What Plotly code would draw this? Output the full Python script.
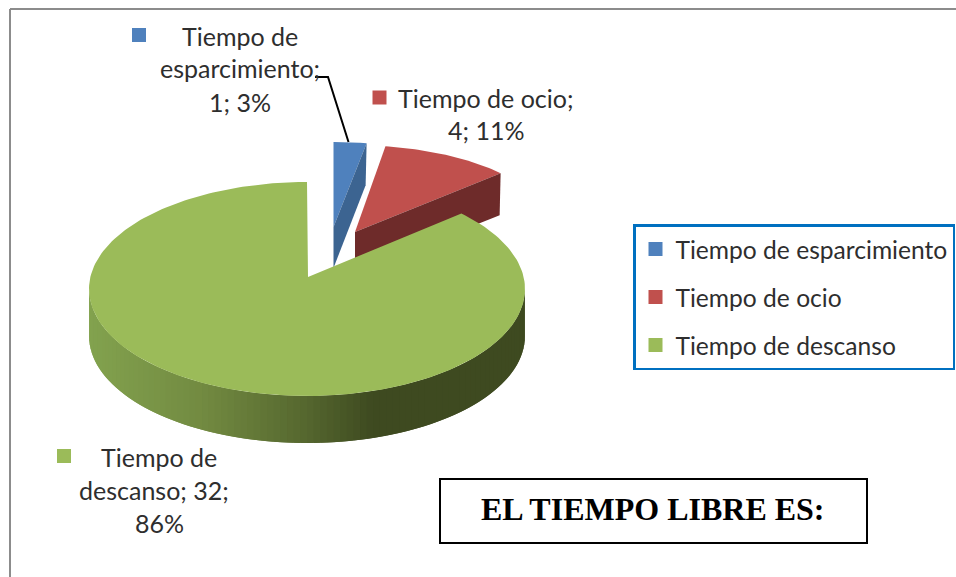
import math
import plotly.graph_objects as go

categories = ["Tiempo de esparcimiento", "Tiempo de ocio", "Tiempo de descanso"]
values = [1, 4, 32]
top_colors = ["#4F81BD", "#C0504D", "#9BBB59"]
side_colors = ["#3C6491", "#6E2B2A", None]

W, H = 956, 577
SANS = "Lato, Carlito, sans-serif"
INK = "#2e2e2e"
# Projection of each pulled slice: apex, ellipse centre, radii, angular warp
geom = [
    dict(ax=333.5, ay=227, cx=333.5, cy=227, rx=196, ry=85, warp=0),
    dict(ax=355, ay=232, cx=352, cy=228, rx=198, ry=83, warp=0),
    dict(ax=308, ay=277, cx=307, cy=289, rx=218, ry=107, warp=3.6),
]
DEPTH = 41
GREEN_DEPTH = 47

total = sum(values)
spans = []
a = 0.0
for v in values:
    spans.append((a, a + 360.0 * v / total))
    a += 360.0 * v / total


def pt(g, deg):
    d = deg - g["warp"] * math.sin(math.radians(2 * deg))
    r = math.radians(d)
    return g["cx"] + g["rx"] * math.sin(r), g["cy"] - g["ry"] * math.cos(r)


def poly(xs, ys, color, name):
    return go.Scatter(x=xs, y=ys, mode="lines", fill="toself", fillcolor=color,
                      line=dict(color=color, width=0), hoverinfo="skip",
                      showlegend=False, name=name)


fig = go.Figure()

# blue and red: top face and visible cut face
for i in (0, 1):
    g = geom[i]
    s, e = spans[i]
    n = 40
    arc = [pt(g, s + (e - s) * k / n) for k in range(n + 1)]
    xs = [g["ax"]] + [p[0] for p in arc]
    ys = [g["ay"]] + [p[1] for p in arc]
    bx, by = arc[-1]
    fig.add_trace(poly(xs, ys, top_colors[i], categories[i]))
    fig.add_trace(poly([g["ax"], bx, bx - 1, g["ax"]],
                       [g["ay"], by, by + DEPTH + 1, g["ay"] + DEPTH],
                       side_colors[i], categories[i]))

# green: shaded rim in overlapping strips, painted right to left, then top face
g = geom[2]
stops = [(89, (130, 162, 78)), (200, (114, 138, 65)), (300, (86, 104, 47)),
         (370, (62, 74, 32)), (530, (62, 74, 32))]


def shade(x):
    for (x0, c0), (x1, c1) in zip(stops, stops[1:]):
        if x <= x1:
            t = max(0.0, (x - x0) / (x1 - x0))
            return "rgb(%d,%d,%d)" % tuple(round(u + (w - u) * t) for u, w in zip(c0, c1))
    return "rgb(62,74,32)"


step = 2
for deg in range(90, 270, step):
    p0, p1 = pt(g, deg), pt(g, min(deg + 2 * step, 270))
    mid = pt(g, deg + step)
    xs = [p0[0], mid[0], p1[0], p1[0], mid[0], p0[0]]
    ys = [p0[1], mid[1], p1[1], p1[1] + GREEN_DEPTH, mid[1] + GREEN_DEPTH, p0[1] + GREEN_DEPTH]
    fig.add_trace(poly(xs, ys, shade(mid[0]), categories[2]))

s, e = spans[2]
n = 240
arc = [pt(g, s + (e - s) * k / n) for k in range(n + 1)]
fig.add_trace(poly([g["ax"]] + [p[0] for p in arc], [g["ay"]] + [p[1] for p in arc],
                   top_colors[2], categories[2]))

# leader line for the smallest slice
fig.add_trace(go.Scatter(x=[315, 328, 348.5], y=[77, 77, 142], mode="lines",
                         line=dict(color="#000000", width=2), hoverinfo="skip", showlegend=False))

# square keys inside the data labels
for (x, y), c in zip([(139, 35), (379.5, 97.5), (64, 456)], top_colors):
    fig.add_trace(go.Scatter(x=[x], y=[y], mode="markers", hoverinfo="skip", showlegend=False,
                             marker=dict(symbol="square", size=14, color=c, line=dict(width=0))))

# legend entries
for cat, c in zip(categories, top_colors):
    fig.add_trace(go.Scatter(x=[None], y=[None], mode="markers", name=cat, legendgroup=cat,
                             marker=dict(symbol="square", size=14, color=c)))

pct = [round(100 * v / total) for v in values]
label_lines = [
    [("Tiempo de", 240, 36), ("esparcimiento;", 240, 68), (f"{values[0]}; {pct[0]}%", 240, 102)],
    [("Tiempo de ocio;", 485, 98), (f"{values[1]}; {pct[1]}%", 486, 130)],
    [("Tiempo de", 159, 457), (f"descanso; {values[2]};", 154, 490), (f"{pct[2]}%", 159, 523)],
]
annotations = []
for lines in label_lines:
    for txt, x, y in lines:
        annotations.append(dict(x=x, y=y, text=txt, showarrow=False, xref="x", yref="y",
                                xanchor="center", yanchor="middle",
                                font=dict(family=SANS, size=25, color=INK)))
annotations.append(dict(x=653, y=509, text="<b>EL TIEMPO LIBRE ES:</b>", showarrow=False,
                        xref="x", yref="y", xanchor="center", yanchor="middle",
                        font=dict(family="Liberation Serif, serif", size=32, color="#000000")))

shapes = [
    dict(type="line", x0=10, x1=956, y0=9, y1=9, line=dict(color="#8c8c8c", width=2)),
    dict(type="line", x0=10, x1=10, y0=9, y1=577, line=dict(color="#8c8c8c", width=2)),
    dict(type="rect", x0=440, x1=867, y0=479, y1=543, line=dict(color="#000000", width=2)),
]

fig.update_layout(
    width=W, height=H, margin=dict(l=0, r=0, t=0, b=0, autoexpand=False),
    paper_bgcolor="#ffffff", plot_bgcolor="#ffffff",
    xaxis=dict(range=[0, W], visible=False, fixedrange=True),
    yaxis=dict(range=[H, 0], visible=False, fixedrange=True),
    annotations=annotations, shapes=shapes,
    legend=dict(x=633 / W, y=1 - 224 / H, xanchor="left", yanchor="top",
                bordercolor="#0070C0", borderwidth=2.5, bgcolor="#ffffff",
                tracegroupgap=13, traceorder="grouped",
                font=dict(family=SANS, size=24.6, color=INK)),
)
fig.write_html("out.html", post_script="document.body.style.margin='0';",
               config=dict(displayModeBar=False))
